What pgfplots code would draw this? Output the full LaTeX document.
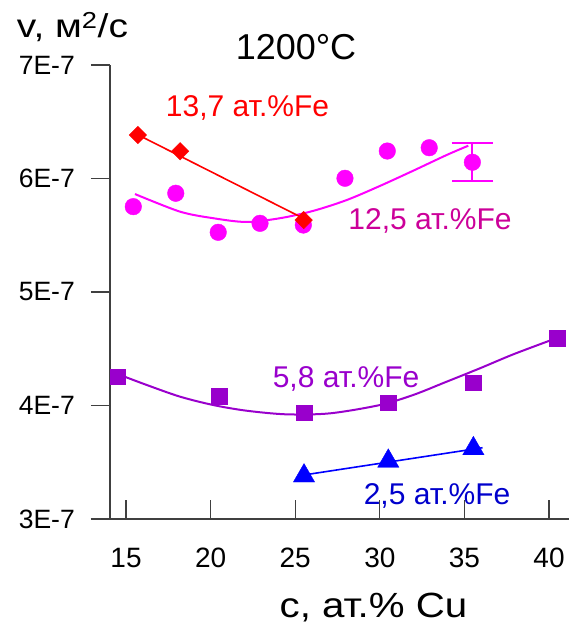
\documentclass[border=0pt]{standalone}
\usepackage{pgfplots}
\pgfplotsset{compat=1.18}
\usepackage{fontspec}
\setmainfont{Liberation Sans}
\definecolor{cRed}{HTML}{FF0000}
\definecolor{cMag}{HTML}{FF00FF}
\definecolor{cMagT}{HTML}{CC0099}
\definecolor{cPur}{HTML}{9900CC}
\definecolor{cBlue}{HTML}{0000FF}
\definecolor{cBlueT}{HTML}{0000CC}
\definecolor{axgray}{HTML}{404040}
\begin{document}
\begin{tikzpicture}
\useasboundingbox (-110pt,-107pt) rectangle (459pt,519pt);
\begin{axis}[
  at={(0pt,0pt)}, anchor=south west,
  scale only axis, width=459pt, height=454pt,
  xmin=14.054, xmax=41.18, ymin=3e-7, ymax=7e-7,
  axis x line=bottom, axis y line=left,
  axis line style={-, axgray, line width=1.3pt},
  x axis line style={shorten <=-19pt},
  xtick={15,20,25,30,35,40},
  ytick={3e-7,4e-7,5e-7,6e-7,7e-7},
  yticklabels={3E-7,4E-7,5E-7,6E-7,7E-7},
  scaled y ticks=false,
  major tick length=19pt,
  xtick align=inside, ytick align=outside,
  tick style={axgray, line width=1.3pt},
  /pgf/number format/assume math mode=true,
  xticklabel style={font=\fontsize{28}{30}\selectfont, inner sep=0pt, anchor=north, yshift=-29pt},
  yticklabel style={font=\fontsize{26.5}{28}\selectfont, inner sep=0pt, anchor=east, xshift=-16pt},
  clip=false,
]
% 12,5 at.% Fe : fit curve
\addplot[cMag, line width=2pt, smooth, no marks] coordinates {
(15.53,5.863e-7) (18.19,5.708e-7) (20.16,5.65e-7) (22.1,5.617e-7) (24.1,5.65e-7)
(26.07,5.715e-7) (28.04,5.81e-7) (30.0,5.934e-7) (31.98,6.069e-7) (33.95,6.207e-7) (35.23,6.289e-7)};
% 12,5 at.% Fe : points
\addplot[only marks, mark=*, mark size=8.3pt, color=cMag] coordinates {
(15.43,5.752e-7) (17.94,5.870e-7) (20.45,5.526e-7) (22.92,5.605e-7) (25.48,5.590e-7)
(27.94,6.002e-7) (30.44,6.242e-7) (32.92,6.271e-7)};
\addplot[only marks, mark=*, mark size=8.3pt, color=cMag,
  error bars/.cd, y dir=both, y explicit,
  error bar style={cMag, line width=2pt},
  error mark=-, error mark options={rotate=90, mark size=20.8pt, cMag, line width=2pt}]
  coordinates {(35.47,6.143e-7) +- (0,0.166e-7)};
% 13,7 at.% Fe
\addplot[cRed, line width=1.6pt, no marks] coordinates {(15.73,6.383e-7) (25.48,5.649e-7)};
\addplot[only marks, mark=square*, mark size=6.2pt, color=cRed, mark options={rotate=45}] coordinates {
(15.7,6.383e-7) (18.2,6.24e-7) (25.5,5.634e-7)};
% 5,8 at.% Fe
\addplot[cPur, line width=2pt, smooth, no marks] coordinates {
(14.65,4.269e-7) (16.22,4.181e-7) (18.19,4.078e-7) (20.16,4.004e-7) (22.13,3.954e-7)
(24.5,3.922e-7) (27.06,3.931e-7) (30.0,4.004e-7) (31.98,4.093e-7) (33.95,4.21e-7)
(35.92,4.328e-7) (37.89,4.451e-7) (40.25,4.583e-7)};
\addplot[only marks, mark=square*, mark size=7.8pt, color=cPur] coordinates {
(14.51,4.254e-7) (20.51,4.084e-7) (25.52,3.937e-7) (30.50,4.025e-7) (35.53,4.201e-7) (40.49,4.592e-7)};
% 2,5 at.% Fe
\addplot[cBlue, line width=1.6pt, no marks] coordinates {(25.52,3.388e-7) (36.07,3.628e-7)};
\addplot[only marks, mark=triangle*, mark size=12.3pt, color=cBlue] coordinates {
(25.52,3.38e-7) (30.50,3.51e-7) (35.53,3.62e-7)};
\end{axis}
\node[anchor=base, inner sep=0pt, font=\fontsize{33}{35}\selectfont] at (-37.5pt,481pt) {\scalebox{1.18}[1]{v, м\textsuperscript{2}/с}};
\node[anchor=base, inner sep=0pt, font=\fontsize{36}{38}\selectfont] at (186pt,459pt) {1200°C};
\node[anchor=base, inner sep=0pt, font=\fontsize{30}{32}\selectfont, text=cRed] at (137.5pt,402pt) {13,7 ат.\%Fe};
\node[anchor=base, inner sep=0pt, font=\fontsize{30}{32}\selectfont, text=cMagT] at (320pt,289pt) {12,5 ат.\%Fe};
\node[anchor=base, inner sep=0pt, font=\fontsize{30}{32}\selectfont, text=cPur] at (236pt,131pt) {5,8 ат.\%Fe};
\node[anchor=base, inner sep=0pt, font=\fontsize{30}{32}\selectfont, text=cBlueT] at (327pt,14pt) {2,5 ат.\%Fe};
\node[anchor=base, inner sep=0pt, font=\fontsize{35}{37}\selectfont] at (263.5pt,-98pt) {\scalebox{1.15}[1]{c, ат.\% Cu}};
\end{tikzpicture}
\end{document}
